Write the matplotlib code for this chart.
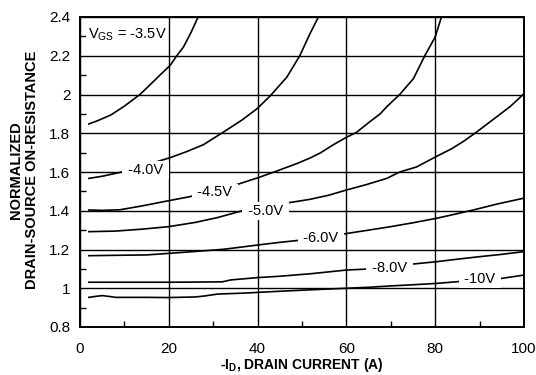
import matplotlib
matplotlib.use("Agg")
import matplotlib.pyplot as plt
from matplotlib.ticker import MultipleLocator, FuncFormatter

plt.rcParams['font.family'] = ['Liberation Sans', 'DejaVu Sans']
plt.rcParams['mathtext.fontset'] = 'custom'
plt.rcParams['mathtext.rm'] = 'Liberation Sans'
plt.rcParams['mathtext.bf'] = 'Liberation Sans:bold'

# ---- data ----
x_35 = [2, 4, 7, 10, 13.5, 16, 18, 20.3, 21.8, 23.3, 25, 26.6]
y_35 = [1.848, 1.865, 1.895, 1.94, 2.0, 2.055, 2.10, 2.15, 2.2, 2.245, 2.32, 2.4]

x_40 = [2, 5, 9, 14, 20.3, 24, 27.8, 32.3, 36.4, 39.9, 42.8, 46.6, 49.5, 51.8, 53.7]
y_40 = [1.567, 1.578, 1.598, 1.63, 1.674, 1.705, 1.741, 1.806, 1.867, 1.927, 1.992, 2.09, 2.2, 2.314, 2.4]

x_45 = [2, 5, 9, 14, 20, 24.8, 30, 35.3, 40.3, 44.3, 48.8, 51.8, 54.1, 57, 60, 62.3, 65.3, 67.6,
        69.1, 72, 75.1, 77.7, 80, 81.4]
y_45 = [1.404, 1.402, 1.405, 1.425, 1.452, 1.473, 1.505, 1.535, 1.572, 1.605, 1.643, 1.672, 1.698,
        1.74, 1.779, 1.805, 1.86, 1.90, 1.937, 2.0, 2.082, 2.202, 2.297, 2.4]

x_50 = [2, 8, 14, 20, 26, 31, 36.4, 40.5, 45, 48, 51.8, 56, 60, 64.5, 69.1, 72, 75.8, 80, 83.7,
        86.5, 89.3, 93.8, 97, 99.8]
y_50 = [1.292, 1.295, 1.305, 1.318, 1.34, 1.365, 1.399, 1.421, 1.435, 1.445, 1.459, 1.48, 1.507,
        1.535, 1.567, 1.60, 1.626, 1.677, 1.72, 1.76, 1.806, 1.884, 1.94, 2.0]

x_60 = [2, 8, 15, 20, 26, 32.3, 40, 45, 48.4, 54, 59.3, 65, 70, 75, 80.3, 84, 88.6, 94, 100]
y_60 = [1.168, 1.170, 1.172, 1.180, 1.19, 1.201, 1.223, 1.237, 1.245, 1.262, 1.28, 1.30, 1.318,
        1.338, 1.361, 1.38, 1.404, 1.435, 1.465]

x_80 = [2, 10, 20, 32, 34, 40, 45, 52, 60, 63.8, 70, 75, 80.3, 85, 90, 95, 100]
y_80 = [1.031, 1.031, 1.031, 1.033, 1.043, 1.055, 1.062, 1.075, 1.094, 1.098, 1.112, 1.125, 1.137,
        1.15, 1.163, 1.175, 1.189]

x_100 = [2, 3.5, 5, 6.5, 8, 15, 20, 26, 28, 31, 37, 42.8, 50, 55, 60, 65, 70, 75, 80.3, 85.6, 90,
         95, 100]
y_100 = [0.953, 0.958, 0.962, 0.958, 0.953, 0.953, 0.952, 0.955, 0.96, 0.97, 0.975, 0.982, 0.99,
         0.995, 1.0, 1.005, 1.012, 1.018, 1.025, 1.035, 1.043, 1.051, 1.068]

curve_labels = ['-4.0V', '-4.5V', '-5.0V', '-6.0V', '-8.0V', '-10V']
label_x = [14.7, 30.4, 41.7, 54.3, 69.7, 90.1]
label_y = [1.610, 1.495, 1.399, 1.258, 1.103, 1.048]

x_ticks = [0, 20, 40, 60, 80, 100]
y_ticks = [0.8, 1.0, 1.2, 1.4, 1.6, 1.8, 2.0, 2.2, 2.4]

# ---- figure ----
fig = plt.figure(figsize=(5.36, 3.75), dpi=100)
ax = fig.add_axes([80/536, 48/375, 444/536, 310/375])

curves = [(x_35, y_35), (x_40, y_40), (x_45, y_45), (x_50, y_50),
          (x_60, y_60), (x_80, y_80), (x_100, y_100)]
for xs, ys in curves:
    ax.plot(xs, ys, color='black', lw=1.2, zorder=2)

ax.set_xlim(0, 100)
ax.set_ylim(0.8, 2.4)
ax.set_xticks(x_ticks)
ax.set_yticks(y_ticks)
ax.xaxis.set_minor_locator(MultipleLocator(10))
ax.yaxis.set_minor_locator(MultipleLocator(0.1))
ax.yaxis.set_major_formatter(FuncFormatter(lambda v, p: '%g' % v))
ax.set_axisbelow(True)
ax.grid(True, which='major', color='black', lw=1.0)
ax.tick_params(which='both', direction='in', top=False, right=False)
ax.tick_params(which='major', length=0, labelsize=11)
ax.tick_params(axis='x', which='major', pad=10.5)
ax.tick_params(axis='y', which='major', pad=7)
ax.tick_params(which='minor', length=4, width=1.0)
for s in ax.spines.values():
    s.set_linewidth(1.4)

for t, lx, ly in zip(curve_labels, label_x, label_y):
    ax.text(lx, ly, ' ' + t + ' ', ha='center', va='center', fontsize=10.5,
            zorder=4, bbox=dict(boxstyle='square,pad=0.12', fc='white', ec='none'))

ax.text(1.8, 2.307, r'V$_\mathrm{GS}$ = -3.5V', ha='left', va='center', fontsize=10.5,
        zorder=4, bbox=dict(boxstyle='square,pad=0.12', fc='white', ec='none'))

fig.text(302/536, 1/375, r'-$\mathbf{I_D}$, DRAIN CURRENT (A)', ha='center', va='bottom',
         fontsize=10, fontweight='bold')
fig.text(24/536, 1 - 170/375, 'NORMALIZED\nDRAIN-SOURCE ON-RESISTANCE', ha='center', va='center',
         rotation=90, fontsize=10.5, fontweight='bold', linespacing=1.2)

fig.savefig('out.png', dpi=100)
